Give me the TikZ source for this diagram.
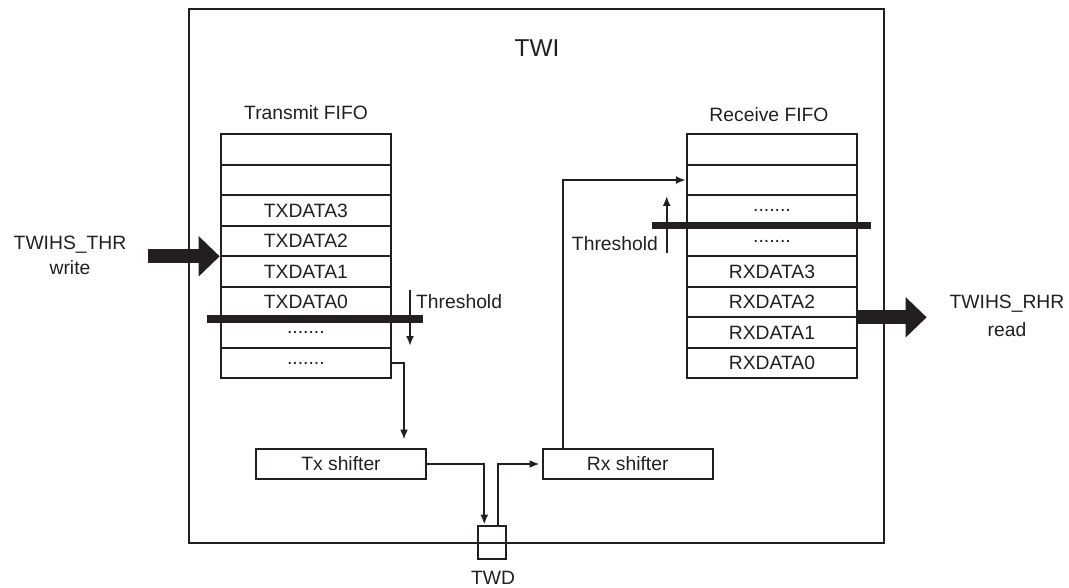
\documentclass[tikz,border=0pt]{standalone}
\usepackage{fontspec}
\setmainfont{Liberation Sans}
\usetikzlibrary{arrows.meta,calc}
\definecolor{ink}{RGB}{35,31,32}
\begin{document}
\begin{tikzpicture}[x=1pt,y=-1pt,
  every node/.style={font=\fontsize{19.3}{22}\selectfont, inner sep=0pt, text=ink},
  cell/.style={draw=ink, line width=2.3pt, minimum width=170pt, minimum height=30.5pt},
  shifter/.style={draw=ink, line width=2.3pt, minimum width=170pt, minimum height=30.5pt},
  conn/.style={draw=ink, line width=2.3pt, -{Latex[length=10pt,width=8pt]}},
  bar/.style={draw=ink, line width=7pt},
  bigarrow/.style={draw=ink, line width=14pt, -{Triangle[length=21pt,width=39pt]}},
  lbl/.style={align=center}
]
\useasboundingbox (0,0) rectangle (1069,588);
% outer TWI box
\node[draw=ink, line width=2.3pt, minimum width=695pt, minimum height=534pt] (twi) at (536.5,276) {};
\node[font=\fontsize{24.4}{28}\selectfont] (twilbl) at (537,48) {TWI};

% Transmit FIFO
\node (txlbl) at (306,113) {Transmit FIFO};
\node[cell] (tx1) at (305.85,149.55) {};
\node[cell] (tx2) at (305.85,180.05) {};
\node[cell] (tx3) at (305.85,210.55) {TXDATA3};
\node[cell] (tx4) at (305.85,241.05) {TXDATA2};
\node[cell] (tx5) at (305.85,271.55) {TXDATA1};
\node[cell] (tx6) at (305.85,302.05) {TXDATA0};
\node[cell] (tx7) at (305.85,332.55) {.......};
\node[cell] (tx8) at (305.85,363.05) {.......};

% Receive FIFO
\node (rxlbl) at (769,115) {Receive FIFO};
\node[cell] (rx1) at (772,149.55) {};
\node[cell] (rx2) at (772,180.05) {};
\node[cell] (rx3) at (772,210.55) {.......};
\node[cell] (rx4) at (772,241.05) {.......};
\node[cell] (rx5) at (772,271.55) {RXDATA3};
\node[cell] (rx6) at (772,302.05) {RXDATA2};
\node[cell] (rx7) at (772,332.55) {RXDATA1};
\node[cell] (rx8) at (772,363.05) {RXDATA0};

% threshold bars
\coordinate (tbl) at (206.7,319);
\coordinate (tbr) at (423,319);
\draw[bar] (tbl) -- (tbr);
\coordinate (rbl) at (651.7,226);
\coordinate (rbr) at (870.7,226);
\draw[bar] (rbl) -- (rbr);

% threshold arrows and labels
\coordinate (tth1) at (410,290);
\coordinate (tth2) at (410,346);
\draw[conn] (tth1) -- (tth2);
\node[anchor=west] (tthlbl) at (416,302) {Threshold};
\coordinate (rth1) at (666.7,253);
\coordinate (rth2) at (666.7,196);
\draw[conn] (rth1) -- (rth2);
\node[anchor=east] (rthlbl) at (658,244) {Threshold};

% shifters
\node[shifter] (txs) at (341,464) {Tx shifter};
\node[shifter] (rxs) at (627.7,464) {Rx shifter};

% TWD
\node[draw=ink, line width=2.3pt, minimum width=28pt, minimum height=33pt] (twd) at (491.7,542.3) {};
\node (twdlbl) at (493,578) {TWD};

% connectors
\draw[conn, shorten >=8pt] (tx8.east) -| ([xshift=63pt]txs.north);
\draw[conn] (txs.east) -| ([xshift=-7.4pt]twd.north);
\draw[conn, shorten >=2pt] ([xshift=6.6pt]twd.north) |- (rxs.west);
\draw[conn] ([xshift=-65pt]rxs.north) |- (rx2.west);

% big arrows
\coordinate (win) at (147.7,256.3);
\draw[bigarrow] (win) -- (win -| tx5.west);
\coordinate (rout) at (926.7,317.3);
\draw[bigarrow] (rout -| rx7.east) -- (rout);

\node[lbl] (thr) at (70,245) {TWIHS\_THR};
\node[lbl] (wr) at (70,268) {write};
\node[lbl] (rhr) at (1007,304) {TWIHS\_RHR};
\node[lbl] (rd) at (1007,330) {read};
\end{tikzpicture}
\end{document}
